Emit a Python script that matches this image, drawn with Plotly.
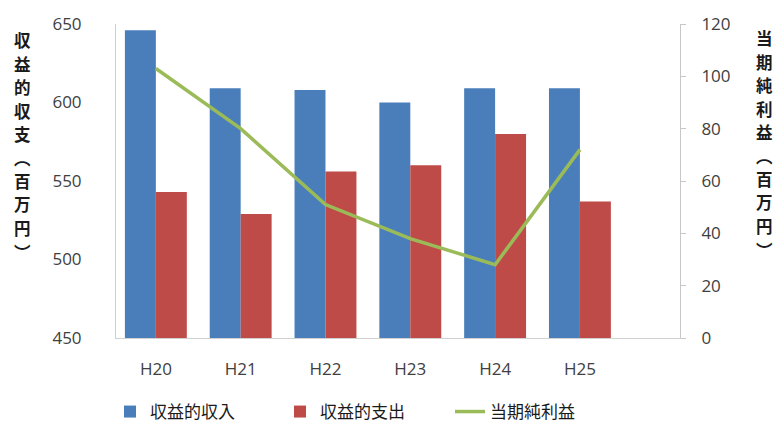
import plotly.graph_objects as go

years = ["H20", "H21", "H22", "H23", "H24", "H25"]
revenue = [646, 609, 608, 600, 609, 609]
expense = [543, 529, 556, 560, 580, 537]
net_profit = [103, 80, 51, 38, 28, 72]

left_title = "収益的収支︵百万円︶"
right_title = "当期純利益︵百万円︶"

FONT = "Noto Sans CJK JP"
W, H = 780, 428
L, R, T, B = 116, 100, 24, 90
pw, ph = W - L - R, H - T - B

fig = go.Figure()
fig.add_trace(go.Bar(x=years, y=revenue, name="収益的収入", marker_color="#4A7EBB",
                     marker_line_width=0, yaxis="y"))
fig.add_trace(go.Bar(x=years, y=expense, name="収益的支出", marker_color="#BE4B48",
                     marker_line_width=0, yaxis="y"))
fig.add_trace(go.Scatter(x=years, y=net_profit, name="当期純利益", mode="lines",
                         line=dict(color="#9BBB59", width=3.5), yaxis="y2"))

def px_x(x):
    return (x - L) / pw

def px_y(y):
    return (H - B - y) / ph

def vertical_title(text, xc, ytop, step):
    for i, ch in enumerate(text):
        fig.add_annotation(text="<b>%s</b>" % ch, x=px_x(xc), y=px_y(ytop + i * step),
                           xref="paper", yref="paper", showarrow=False, borderpad=0,
                           font=dict(family=FONT, size=16.5, color="#1a1a1a"),
                           xanchor="center", yanchor="middle")

vertical_title(left_title, 22, 40, 23.5)
vertical_title(right_title, 764, 38, 23.5)

fig.update_layout(
    width=W, height=H,
    margin=dict(l=L, r=R, t=T, b=B, pad=0),
    paper_bgcolor="white", plot_bgcolor="white",
    barmode="group", bargap=0.27, bargroupgap=0,
    font=dict(family=FONT, size=17, color="#404040"),
    showlegend=True,
    legend=dict(orientation="h", xref="container", x=110 / W, xanchor="left",
                yref="container", y=1 - 412 / H, yanchor="middle",
                entrywidth=125, entrywidthmode="pixels",
                font=dict(family=FONT, size=17, color="#1a1a1a"),
                bgcolor="rgba(0,0,0,0)"),
    xaxis=dict(type="category", range=[-0.47, 6.18], showline=True, linecolor="#D0D0D0",
               linewidth=1, ticks="", showgrid=False, ticklabelstandoff=16,
               tickfont=dict(family="Open Sans", size=17, color="#404040")),
    yaxis=dict(range=[450, 650], dtick=50, showline=True, linecolor="#D0D0D0", linewidth=1,
               ticks="", showgrid=False, zeroline=False, ticklabelstandoff=30,
               tickfont=dict(family="Open Sans", size=17, color="#404040")),
    yaxis2=dict(range=[0, 120], dtick=20, overlaying="y", side="right", showline=True,
                linecolor="#C8C8C8", linewidth=1, ticks="outside", ticklen=5,
                tickcolor="#C8C8C8", showgrid=False, zeroline=False, ticklabelstandoff=12,
                tickfont=dict(family="Open Sans", size=17, color="#404040")),
)

fig.write_html("out.html")
